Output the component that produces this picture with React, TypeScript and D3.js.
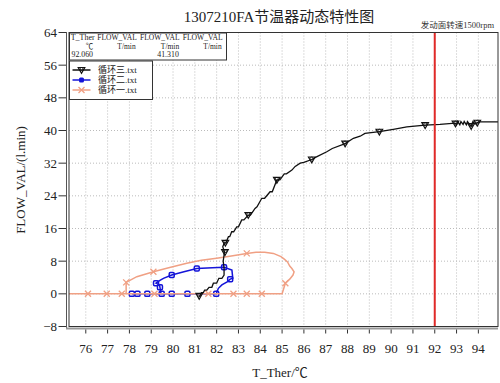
import * as d3 from "d3";

// 循环三 (black)
const cycle3T = [81.2, 81.3, 81.39, 81.45, 81.55, 81.65, 81.78, 81.85, 82.0, 82.1, 82.24, 82.34, 82.34, 82.3, 82.36, 82.28, 82.35, 82.42, 82.54, 82.6, 82.69, 82.78, 82.92, 83.0, 83.15, 83.25, 83.45, 83.55, 83.76, 83.85, 84.07, 84.2, 84.45, 84.55, 84.76, 84.9, 85.1, 85.2, 85.45, 85.6, 85.83, 86.0, 86.36, 86.6, 87.05, 87.3, 87.89, 88.27, 88.58, 88.8, 89.46, 90.1, 90.72, 91.56, 92.24, 92.93, 93.0, 93.05, 93.15, 93.2, 93.3, 93.35, 93.45, 93.5, 93.6, 93.67, 93.75, 93.85, 93.95, 94.0, 94.9];
const cycle3Flow = [-0.7, 0.3, 0.3, 0.9, 0.9, 1.6, 1.6, 2.6, 2.6, 3.8, 3.8, 4.6, 6.3, 8, 10.3, 11.5, 12.5, 12.5, 14, 14, 15.2, 15.2, 16.4, 16.4, 18.1, 18.1, 19.3, 19.3, 20.9, 21.3, 23.4, 23.4, 25, 25, 27.9, 27.9, 29.4, 29.4, 30.3, 31.2, 32, 32.2, 32.9, 33.6, 34.8, 35.6, 36.8, 38.1, 38.6, 39.3, 39.7, 40.3, 40.9, 41.3, 41.5, 41.8, 41.4, 42.2, 41.4, 42.2, 41.5, 42.2, 41.4, 42.2, 41.5, 41.1, 42.2, 41.6, 41.9, 42.1, 42.1];
const cycle3MarkT = [81.2, 82.38, 82.4, 83.45, 84.76, 86.36, 87.89, 89.46, 91.56, 92.95, 93.67, 93.95];
const cycle3MarkFlow = [-0.5, 10.2, 12.5, 19.3, 27.9, 32.9, 36.8, 39.7, 41.3, 41.7, 41.1, 41.9];

// 循环二 (blue)
const cycle2T = [78.11, 78.37, 78.82, 79.48, 79.94, 80.66, 81.24, 81.98, 82.08, 82.24, 82.5, 82.62, 82.74, 82.7, 82.34, 81.8, 81.09, 80.5, 79.94, 79.56, 79.4, 79.22, 79.38, 79.4, 79.45];
const cycle2Flow = [0, 0, 0, 0, 0, 0, 0, 0, 1.35, 2.2, 3.0, 3.6, 3.8, 5.8, 6.5, 6.4, 6.2, 5.4, 4.6, 3.8, 3.3, 2.6, 2.2, 1.6, 0];
const cycle2MarkT = [78.11, 78.37, 78.82, 79.48, 79.94, 80.66, 81.98, 82.62, 82.34, 81.09, 79.94, 79.22, 79.4];
const cycle2MarkFlow = [0, 0, 0, 0, 0, 0, 0, 3.6, 6.5, 6.2, 4.6, 2.6, 1.6];

// 循环一 (salmon)
const cycle1T = [75.23, 85.0, 85.15, 85.35, 85.5, 85.55, 85.45, 85.35, 85.25, 85.1, 84.95, 84.6, 84.2, 83.8, 83.38, 82.6, 82.0, 81.3, 80.63, 79.8, 79.1, 78.34, 77.85, 77.85];
const cycle1Flow = [0, 0, 2.6, 3.6, 4.6, 5.4, 6.2, 6.8, 7.8, 8.5, 9.1, 9.9, 10.2, 10.2, 9.9, 9.2, 8.7, 8.2, 7.5, 6.4, 5.4, 4.2, 2.8, 0];
const cycle1MarkT = [76.1, 76.96, 77.65, 79.15, 81.62, 82.77, 83.38, 84.07, 85.15, 83.38, 79.1, 77.85];
const cycle1MarkFlow = [0, 0, 0, 0, 0, 0, 0, 0, 2.6, 9.9, 5.4, 2.8];

const xTicks = d3.range(76, 95);
const yTicks = [-8, 0, 8, 16, 24, 32, 40, 48, 56, 64];
const infoHeaders = ["T_Ther", "FLOW_VAL", "FLOW_VAL", "FLOW_VAL"];
const infoUnits = ["℃", "T/min", "T/min", "T/min"];
const infoValues = ["92.060", "", "41.310", ""];
const legendNames = ["循环三.txt", "循环二.txt", "循环一.txt"];

const BLACK = "#111";
const BLUE = "#1414d8";
const SALMON = "#f0a084";
const FONT = "'Liberation Serif', 'Noto Sans CJK SC', serif";

function pts(t: number[], f: number[]) {
  return t.map((v, i) => [v, f[i]] as [number, number]);
}

function Tri({ x, y }: { x: number; y: number }) {
  return (
    <g transform={`translate(${x},${y})`}>
      <path d="M-3.3,-2.5L3.3,-2.5L0,3.3Z" fill="none" stroke={BLACK} strokeWidth={1.2} />
      <circle r={1.5} cy={-1} fill="none" stroke={BLACK} strokeWidth={0.8} />
    </g>
  );
}
function Sq({ x, y }: { x: number; y: number }) {
  return (
    <rect x={x - 2.5} y={y - 2.5} width={5} height={5} rx={1.2} fill="none" stroke={BLUE} strokeWidth={1.5} />
  );
}
function Cross({ x, y }: { x: number; y: number }) {
  return (
    <path d={`M${x - 3},${y - 3}L${x + 3},${y + 3}M${x - 3},${y + 3}L${x + 3},${y - 3}`} stroke={SALMON} strokeWidth={1.3} />
  );
}

export default function App() {
  const x = d3.scaleLinear().domain([75.23, 94.9]).range([69, 498]);
  const y = d3.scaleLinear().domain([-8, 64]).range([326.5, 32.5]);
  const line = d3.line<[number, number]>().x((d) => x(d[0])).y((d) => y(d[1]));

  const infoCols = [70.7, 97.3, 140, 182.7];
  const infoWidths = [24, 39.5, 39.5, 40];
  const unitCols = [89.5, 126.5, 170, 212.5];
  const valueCols = [71.5, 0, 157.3, 0];

  return (
    <svg width={500} height={383} style={{ position: "absolute", left: 0, top: 0, background: "#fff" }} fontFamily={FONT}>
      {/* title */}
      <text x={279} y={22} textAnchor="middle" fontSize={15} fill="#222">1307210FA节温器动态特性图</text>
      <text x={494} y={28} textAnchor="end" fontSize={8.5} fill="#333">发动面转速1500rpm</text>

      {/* grid */}
      {xTicks.map((t) => (
        <line key={`gx${t}`} x1={x(t)} x2={x(t)} y1={32.5} y2={326.5} stroke="#bbb" strokeDasharray="1,2" />
      ))}
      {yTicks.slice(1, -1).map((t) => (
        <line key={`gy${t}`} x1={69} x2={498} y1={y(t)} y2={y(t)} stroke="#bbb" strokeDasharray="1,2" />
      ))}

      {/* series */}
      <path d={line(pts(cycle2T, cycle2Flow)) || ""} fill="none" stroke={BLUE} strokeWidth={1.5} />
      {cycle2MarkT.map((t, i) => <Sq key={`b${i}`} x={x(t)} y={y(cycle2MarkFlow[i])} />)}
      <path d={line(pts(cycle1T, cycle1Flow)) || ""} fill="none" stroke={SALMON} strokeWidth={1.5} />
      {cycle1MarkT.map((t, i) => <Cross key={`s${i}`} x={x(t)} y={y(cycle1MarkFlow[i])} />)}
      <path d={line(pts(cycle3T, cycle3Flow)) || ""} fill="none" stroke={BLACK} strokeWidth={1.3} />
      {cycle3MarkT.map((t, i) => <Tri key={`k${i}`} x={x(t)} y={y(cycle3MarkFlow[i])} />)}

      {/* red cursor */}
      <line x1={x(92)} x2={x(92)} y1={32.5} y2={326.5} stroke="#e02a28" strokeWidth={2} />

      {/* frame */}
      <rect x={69} y={32.5} width={429} height={294} fill="none" stroke="#333" strokeWidth={1} />
      <line x1={66.5} x2={66.5} y1={32} y2={328.5} stroke="#555" strokeWidth={1} />
      <line x1={66} x2={498} y1={328.5} y2={328.5} stroke="#999" strokeWidth={2} />

      {/* axes */}
      {yTicks.map((t) => (
        <g key={`yt${t}`}>
          <line x1={58.5} x2={66} y1={y(t)} y2={y(t)} stroke="#333" />
          <text x={57} y={y(t)} dy="0.35em" textAnchor="end" fontSize={13} fill="#222">
            {t < 0 ? `−${-t}` : t}
          </text>
        </g>
      ))}
      {xTicks.map((t) => (
        <g key={`xt${t}`}>
          <line x1={x(t)} x2={x(t)} y1={329.5} y2={333.5} stroke="#333" />
          <text x={x(t)} y={353} textAnchor="middle" fontSize={13} fill="#222">{t}</text>
        </g>
      ))}
      <text x={280} y={377} textAnchor="middle" fontSize={13} fill="#222">T_Ther/℃</text>
      <text transform="translate(25,180) rotate(-90)" textAnchor="middle" fontSize={13} fill="#222">FLOW_VAL/(l.min)</text>

      {/* info box */}
      <rect x={69.5} y={33} width={157} height={27} fill="#fff" stroke="#333" />
      {infoHeaders.map((h, i) => (
        <text key={`ih${i}`} x={infoCols[i]} y={39.5} fontSize={8} fill="#222" textLength={infoWidths[i]} lengthAdjust="spacingAndGlyphs">{h}</text>
      ))}
      {infoUnits.map((u, i) => (
        <text key={`iu${i}`} x={unitCols[i]} y={48.5} textAnchor="middle" fontSize={7.5} fill="#222">{u}</text>
      ))}
      {infoValues.map((v, i) => v && (
        <text key={`iv${i}`} x={valueCols[i]} y={56.5} fontSize={8} fill="#222" textLength={21.5} lengthAdjust="spacingAndGlyphs">{v}</text>
      ))}

      {/* legend */}
      <rect x={69.5} y={61} width={83} height={38.5} fill="#fff" stroke="#333" />
      {legendNames.map((n, i) => {
        const ly = 70 + i * 10;
        const color = [BLACK, BLUE, SALMON][i];
        return (
          <g key={n}>
            <line x1={72.5} x2={90.5} y1={ly} y2={ly} stroke={color} strokeWidth={1.5} />
            {i === 0 && <Tri x={81.5} y={ly} />}
            {i === 1 && <rect x={79} y={ly - 2.5} width={5} height={5} rx={1.5} fill={BLUE} />}
            {i === 2 && <Cross x={81.5} y={ly} />}
            <text x={98} y={ly} dy="0.35em" fontSize={9} fill="#222">{n}</text>
          </g>
        );
      })}
    </svg>
  );
}
